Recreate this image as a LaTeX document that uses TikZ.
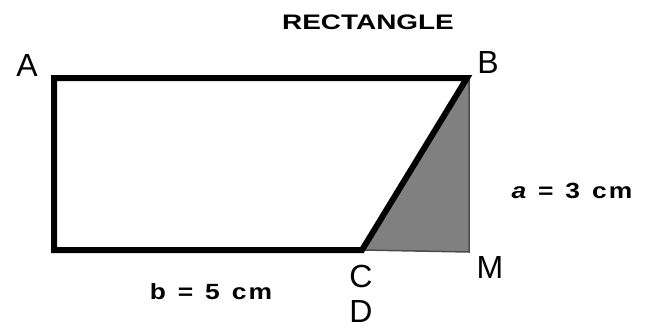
\documentclass[tikz,border=0pt]{standalone}
\usepackage{fontspec}
\setmainfont{Liberation Sans}
\begin{document}
\begin{tikzpicture}[x=1pt,y=-1pt,
  lbl/.style={inner sep=0pt, font=\fontsize{32}{32}\selectfont},
  dim/.style={inner sep=0pt, font=\bfseries\fontsize{22}{22}\selectfont},
  edge/.style={line width=6pt, line join=miter, black},
  shade/.style={fill=black!50, draw=black!70, line width=1.5pt}]
\useasboundingbox (0,0) rectangle (645,327);
\coordinate (pA) at (54,78);
\coordinate (pB) at (467,78);
\coordinate (pC) at (362,250);
\coordinate (pD) at (54,250);
\coordinate (pM) at (469,252);
\coordinate (pT) at (469,78);
\fill[shade] (pT) -- (pM) -- (pC) -- cycle;
\draw[edge] (pC) -- (pD) -- (pA) -- (pB) -- cycle;
\node[inner sep=0pt, font=\bfseries\fontsize{21}{21}\selectfont, xscale=1.33] (title) at (368,22) {RECTANGLE};
\node[lbl] (lA) at (27,65) {A};
\node[lbl] (lB) at (488,62) {B};
\node[lbl] (lC) at (361,276) {C};
\node[lbl] (lD) at (361,311) {D};
\node[lbl] (lM) at (490,267) {M};
\node[dim, xscale=1.2] (lb) at (211,292) {b\hspace{0.45em}=\hspace{0.45em}5\hspace{0.45em}c\hspace{0.08em}m};
\node[dim, xscale=1.2] (la) at (572,191) {\textit{a}\hspace{0.45em}=\hspace{0.45em}3\hspace{0.45em}c\hspace{0.08em}m};
\end{tikzpicture}
\end{document}
